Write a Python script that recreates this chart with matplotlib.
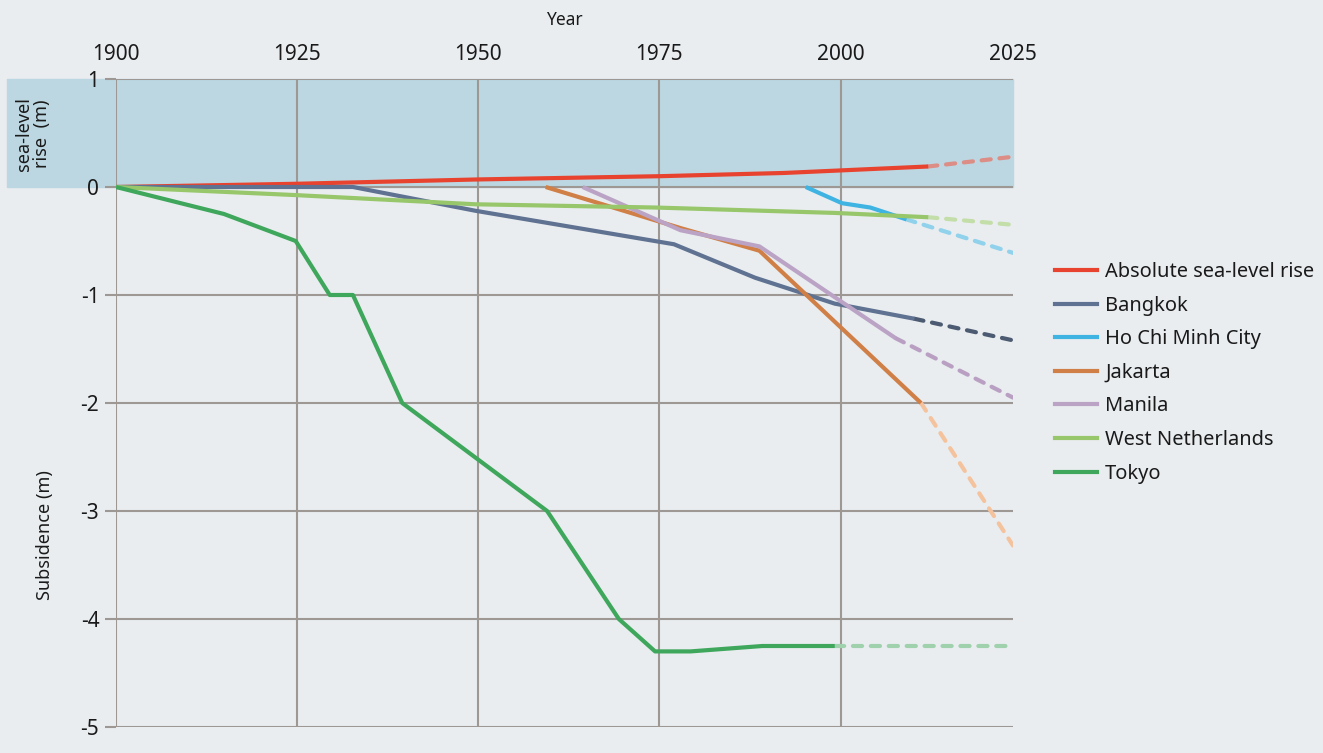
"""Land subsidence in coastal cities vs absolute sea-level rise."""

import matplotlib

matplotlib.use("Agg")
import matplotlib.pyplot as plt
import matplotlib.transforms as mtransforms
from matplotlib.lines import Line2D
from matplotlib.patches import Rectangle

plt.rcParams["font.family"] = ["Noto Sans", "DejaVu Sans"]

BG = "#e9edf0"
SHADE = "#bcd7e1"
GRID = "#9e9894"
TXT = "#1a1a1a"

# series: observed (solid) part and projection to the right edge (dashed)
names = [
    "Absolute sea-level rise",
    "Bangkok",
    "Ho Chi Minh City",
    "Jakarta",
    "Manila",
    "West Netherlands",
    "Tokyo",
]

sea_years = [1900, 1925, 1950, 1975, 1992.2, 2012.1]
sea_vals = [0, 0.03, 0.07, 0.10, 0.13, 0.19]
sea_proj = [0.19, 0.28]

bkk_years = [1900, 1932.7, 1949.6, 1977, 1988.2, 1999.2, 2010.2]
bkk_vals = [0, 0, -0.22, -0.53, -0.84, -1.08, -1.22]
bkk_proj = [-1.22, -1.42]

hcm_years = [1995.2, 2000.2, 2004.1, 2009.1]
hcm_vals = [0, -0.15, -0.19, -0.30]
hcm_proj = [-0.30, -0.61]

jak_years = [1959.3, 1977.9, 1988.8, 2011.1]
jak_vals = [0, -0.38, -0.59, -2.0]
jak_proj = [-2.0, -3.32]

mnl_years = [1964.4, 1977.9, 1988.8, 2007.6]
mnl_vals = [0, -0.40, -0.55, -1.40]
mnl_proj = [-1.40, -1.95]

wnl_years = [1900, 1924.8, 1949.6, 1974.4, 1999.2, 2012.1]
wnl_vals = [0, -0.075, -0.16, -0.19, -0.24, -0.28]
wnl_proj = [-0.28, -0.35]

tok_years = [1900, 1914.9, 1924.8, 1929.5, 1932.7, 1939.5, 1959.5, 1969.4,
             1974.4, 1979.3, 1989.2, 1999.2]
tok_vals = [0, -0.25, -0.5, -1.0, -1.0, -2.0, -3.0, -4.0, -4.3, -4.3, -4.25, -4.25]
tok_proj = [-4.25, -4.25]

x_min, x_max = 1900, 2023.8
proj_end = x_max

series = [
    (sea_years, sea_vals, sea_proj, "#e8432f", "#dc8d86"),
    (bkk_years, bkk_vals, bkk_proj, "#5f7291", "#4c5b71"),
    (hcm_years, hcm_vals, hcm_proj, "#3fb3e2", "#90d1eb"),
    (jak_years, jak_vals, jak_proj, "#d07f46", "#f4c39d"),
    (mnl_years, mnl_vals, mnl_proj, "#bba3c6", "#b9a0c3"),
    (wnl_years, wnl_vals, wnl_proj, "#97c76a", "#c4deaa"),
    (tok_years, tok_vals, tok_proj, "#3fa75c", "#9fd2ac"),
]

x_ticks = [1900, 1925, 1950, 1975, 2000, x_max]
x_labels = ["1900", "1925", "1950", "1975", "2000", "2025"]
y_ticks = [1, 0, -1, -2, -3, -4, -5]

fig = plt.figure(figsize=(13.23, 7.53), dpi=100, facecolor=BG)
ax = fig.add_axes([116 / 1323, 26 / 753, 897 / 1323, 648 / 753])
ax.set_facecolor(BG)
ax.set_xlim(x_min, x_max)
ax.set_ylim(-5, 1)

# shaded sea-level band, extended to the left edge of the figure
band = mtransforms.blended_transform_factory(ax.transAxes, ax.transData)
left = -(116 - 7) / 897
ax.add_patch(Rectangle((left, 0), 1 - left, 1, transform=band, color=SHADE,
                       zorder=0, clip_on=False))

for y in y_ticks:
    ax.axhline(y, color=GRID, lw=1.5, zorder=1)
for x in x_ticks[:-1]:
    ax.axvline(x, color=GRID, lw=1.5, zorder=1)

for spine in ax.spines.values():
    spine.set_visible(False)

ax.xaxis.tick_top()
ax.set_xticks(x_ticks)
ax.set_xticklabels(x_labels)
ax.tick_params(axis="x", length=0, pad=10, labelsize=15, labelcolor=TXT)
ax.set_yticks(y_ticks)
ax.set_yticklabels([str(v) for v in y_ticks])
ax.tick_params(axis="y", length=8, width=1.5, color=GRID, pad=4, labelsize=15, labelcolor=TXT)
ax.xaxis.set_label_position("top")
ax.set_xlabel("Year", fontsize=12.5, labelpad=14, color=TXT)

for years, vals, proj, col, pcol in series:
    ax.plot([years[-1], proj_end], proj, color=pcol, lw=3,
            linestyle=(0, (2.2, 2.1)), dash_capstyle="round", zorder=3)
    ax.plot(years, vals, color=col, lw=3, solid_capstyle="butt", zorder=4)

fig.text(45 / 1323, 1 - 535 / 753, "Subsidence (m)", rotation=90, ha="center", va="center",
         fontsize=13, color=TXT)
fig.text(33 / 1323, 1 - 134 / 753, "sea-level\nrise  (m)", rotation=90, ha="center", va="center",
         fontsize=13, color=TXT, linespacing=1.0)

handles = [Line2D([], [], color=s[3], lw=3) for s in series]
leg = fig.legend(handles, names, loc="upper left", bbox_to_anchor=(1055 / 1323, 1 - 262 / 753),
                 frameon=False, fontsize=14.4, handlelength=2.1, handletextpad=0.4,
                 labelspacing=0.68, borderpad=0, borderaxespad=0)
for t in leg.get_texts():
    t.set_color(TXT)

fig.savefig("out.png", dpi=100, facecolor=BG)
